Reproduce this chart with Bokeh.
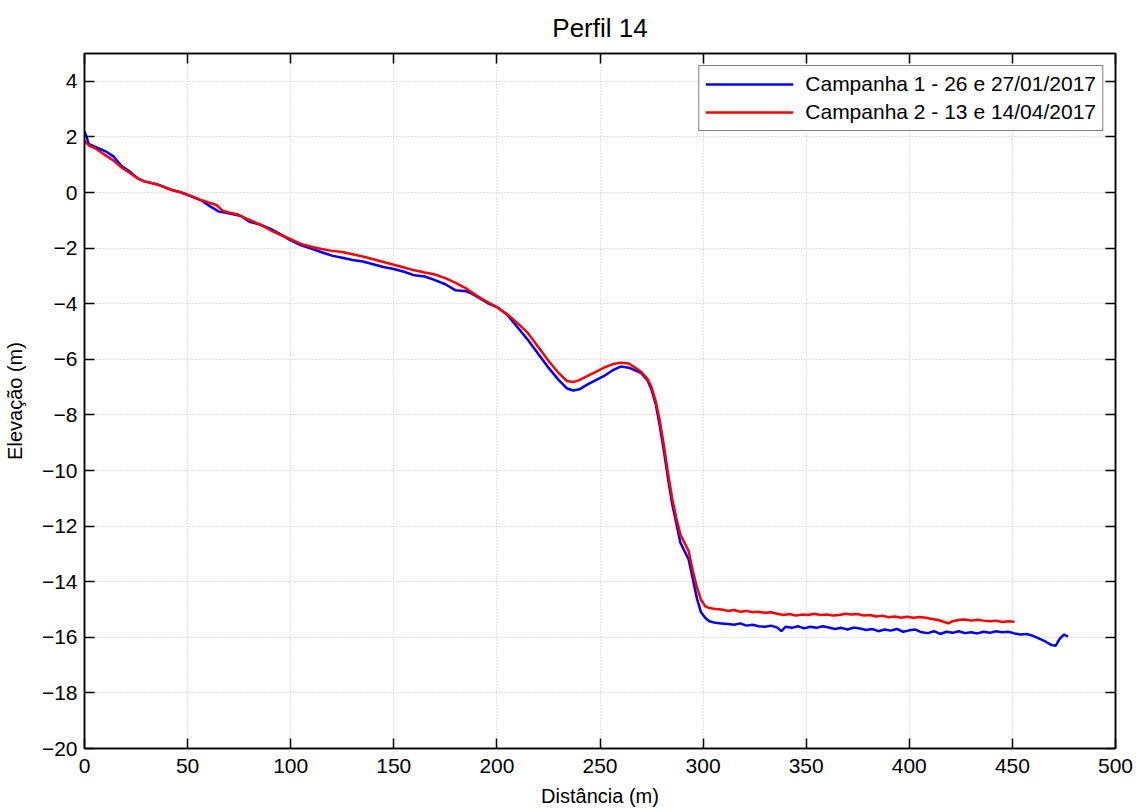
from bokeh.plotting import figure
from bokeh.models import Range1d, FixedTicker, LinearAxis, Legend, LegendItem, CustomJSTickFormatter
from bokeh.embed import file_html
from bokeh.resources import INLINE

# ---- data ----
c1_x = [0, 1, 2, 5, 8, 11, 14, 18, 22, 26, 29, 35, 42, 47, 52, 57, 61, 65, 68, 72, 76, 80, 85, 90, 95,
        100, 105, 110, 115, 120, 125, 130, 135, 140, 145, 150, 155, 160, 165, 170, 175, 180, 185, 188,
        192, 196, 200, 205, 210, 215, 220, 225, 230, 234, 237, 240, 244, 248, 252, 256, 260, 264, 267,
        270, 273, 275, 277, 279, 281, 283, 285, 287, 289, 291, 293, 295, 297, 299, 301, 303, 306, 309,
        312, 315, 318, 321, 324, 327, 330, 333, 336, 338, 340, 343, 346, 349, 352, 355, 358, 361, 364,
        367, 370, 373, 376, 379, 382, 385, 388, 391, 394, 397, 400, 403, 406, 409, 412, 415, 418, 421,
        424, 427, 430, 433, 436, 439, 442, 445, 448, 451, 454, 457, 460, 463, 466, 469, 471, 473, 475, 477]
c1_y = [2.2, 2.0, 1.75, 1.65, 1.55, 1.45, 1.3, 0.95, 0.75, 0.5, 0.4, 0.3, 0.1, 0.0, -0.15, -0.3, -0.5,
        -0.68, -0.72, -0.78, -0.85, -1.05, -1.15, -1.3, -1.5, -1.72, -1.9, -2.02, -2.15, -2.27, -2.35,
        -2.43, -2.48, -2.58, -2.68, -2.75, -2.85, -2.98, -3.02, -3.15, -3.3, -3.52, -3.55, -3.65, -3.82,
        -4.0, -4.12, -4.4, -4.85, -5.3, -5.8, -6.3, -6.75, -7.05, -7.12, -7.08, -6.9, -6.75, -6.6, -6.4,
        -6.26, -6.3, -6.4, -6.5, -6.75, -7.1, -7.6, -8.4, -9.3, -10.3, -11.2, -11.9, -12.6, -12.9, -13.2,
        -13.9, -14.6, -15.1, -15.3, -15.42, -15.48, -15.5, -15.52, -15.55, -15.5, -15.58, -15.55, -15.6,
        -15.62, -15.58, -15.65, -15.78, -15.62, -15.66, -15.6, -15.68, -15.62, -15.66, -15.6, -15.65,
        -15.7, -15.66, -15.72, -15.65, -15.68, -15.74, -15.7, -15.78, -15.72, -15.76, -15.7, -15.8,
        -15.75, -15.72, -15.82, -15.85, -15.78, -15.88, -15.8, -15.84, -15.78, -15.85, -15.82, -15.86,
        -15.8, -15.84, -15.78, -15.82, -15.8, -15.86, -15.9, -15.88, -15.95, -16.05, -16.15, -16.28,
        -16.3, -16.05, -15.9, -15.98]

c2_x = [0, 2, 5, 8, 11, 14, 18, 22, 26, 29, 35, 42, 47, 52, 57, 61, 64, 67, 70, 74, 78, 82, 86, 90, 95,
        100, 105, 110, 115, 120, 125, 130, 135, 140, 145, 150, 155, 160, 165, 170, 175, 180, 185, 190,
        195, 200, 205, 210, 215, 220, 225, 230, 234, 237, 240, 244, 248, 252, 256, 260, 264, 267, 270,
        273, 275, 277, 279, 281, 283, 285, 287, 289, 291, 293, 295, 297, 299, 301, 303, 306, 309, 312,
        315, 318, 321, 324, 327, 330, 333, 336, 339, 342, 345, 348, 351, 354, 357, 360, 363, 366, 369,
        372, 375, 378, 381, 384, 387, 390, 393, 396, 399, 402, 405, 408, 411, 414, 417, 419, 421, 424,
        427, 430, 433, 436, 439, 442, 445, 448, 451]
c2_y = [1.85, 1.7, 1.6, 1.45, 1.3, 1.15, 0.9, 0.7, 0.5, 0.4, 0.3, 0.1, 0.0, -0.13, -0.28, -0.38, -0.45,
        -0.65, -0.72, -0.78, -0.92, -1.05, -1.18, -1.35, -1.52, -1.68, -1.85, -1.95, -2.03, -2.1, -2.14,
        -2.22, -2.3, -2.4, -2.5, -2.6, -2.7, -2.8, -2.88, -2.95, -3.08, -3.25, -3.45, -3.7, -3.92, -4.12,
        -4.38, -4.7, -5.05, -5.55, -6.05, -6.5, -6.78, -6.82, -6.75, -6.6, -6.45, -6.3, -6.18, -6.12,
        -6.15, -6.3, -6.45, -6.7, -7.0, -7.5, -8.2, -9.1, -10.1, -11.0, -11.7, -12.3, -12.6, -12.9,
        -13.6, -14.2, -14.65, -14.88, -14.95, -14.98, -15.0, -15.05, -15.02, -15.08, -15.05, -15.1,
        -15.08, -15.12, -15.1, -15.15, -15.2, -15.16, -15.22, -15.18, -15.2, -15.15, -15.2, -15.18,
        -15.22, -15.2, -15.15, -15.18, -15.16, -15.22, -15.2, -15.25, -15.22, -15.28, -15.25, -15.3,
        -15.26, -15.3, -15.27, -15.3, -15.34, -15.38, -15.45, -15.5, -15.42, -15.38, -15.36, -15.4,
        -15.37, -15.4, -15.42, -15.4, -15.45, -15.42, -15.44]

series_labels = ["Campanha 1 - 26 e 27/01/2017", "Campanha 2 - 13 e 14/04/2017"]
x_ticks = [0, 50, 100, 150, 200, 250, 300, 350, 400, 450, 500]
y_ticks = [-20, -18, -16, -14, -12, -10, -8, -6, -4, -2, 0, 2, 4]

FONT = "Liberation Sans"

p = figure(width=1135, height=809, output_backend="svg", toolbar_location=None,
           x_range=Range1d(0, 500), y_range=Range1d(-20, 5),
           min_border_left=83, min_border_right=20, min_border_top=52, min_border_bottom=60)
p.background_fill_color = "white"
p.border_fill_color = "white"
p.outline_line_color = "black"
p.outline_line_width = 1.5

p.title.text = "Perfil 14"
p.title.align = "center"
p.title.text_font = FONT
p.title.text_font_size = "26px"
p.title.text_font_style = "normal"
p.title.text_color = "black"
p.title.standoff = 21

def style_axis(ax, ticks, labels=True):
    ax.ticker = FixedTicker(ticks=ticks)
    ax.major_tick_in = 10
    ax.major_tick_out = 0
    ax.minor_tick_in = 0
    ax.minor_tick_out = 0
    ax.axis_line_color = "black"
    ax.axis_line_width = 1.5
    ax.major_tick_line_color = "black"
    ax.major_tick_line_width = 1.5
    ax.major_label_text_font = FONT
    ax.major_label_text_font_size = "21px"
    ax.major_label_text_color = "black"
    if not labels:
        ax.formatter = CustomJSTickFormatter(code="return ''")
        ax.major_label_standoff = 0
        ax.major_label_text_font_size = "0px"
        ax.axis_label = None
        ax.axis_label_standoff = 0
        ax.axis_label_text_font_size = "0px"

style_axis(p.xaxis[0], x_ticks)
style_axis(p.yaxis[0], y_ticks)
p.xaxis.major_label_standoff = 10
p.yaxis.major_label_standoff = 7
p.xaxis.axis_label = "Distância (m)"
p.yaxis.axis_label = "Elevação (m)"
for ax in (p.xaxis[0], p.yaxis[0]):
    ax.axis_label_text_font = FONT
    ax.axis_label_text_font_size = "20px"
    ax.axis_label_text_font_style = "normal"
    ax.axis_label_text_color = "black"
p.xaxis.axis_label_standoff = 9
p.yaxis.axis_label_standoff = 13

top_ax = LinearAxis()
style_axis(top_ax, x_ticks, labels=False)
p.add_layout(top_ax, "above")
right_ax = LinearAxis()
style_axis(right_ax, y_ticks, labels=False)
p.add_layout(right_ax, "right")

p.xgrid.ticker = FixedTicker(ticks=x_ticks)
p.ygrid.ticker = FixedTicker(ticks=y_ticks)
for g in (p.xgrid[0], p.ygrid[0]):
    g.grid_line_color = "#c4c4c4"
    g.grid_line_dash = "1 2"
    g.grid_line_width = 1

r1 = p.line(c1_x, c1_y, line_color="#0000ff", line_width=2.5)
r2 = p.line(c2_x, c2_y, line_color="#ff0000", line_width=2.5)

legend = Legend(items=[LegendItem(label=series_labels[0], renderers=[r1]),
                       LegendItem(label=series_labels[1], renderers=[r2])],
                location="top_right")
legend.label_text_font = FONT
legend.label_text_font_size = "21px"
legend.label_text_color = "black"
legend.border_line_color = "black"
legend.border_line_width = 1
legend.background_fill_color = "white"
legend.background_fill_alpha = 1
legend.glyph_width = 88
legend.glyph_height = 20
legend.label_standoff = 12
legend.label_height = 22
legend.spacing = 4
legend.padding = 6
legend.margin = 12
p.add_layout(legend, "center")

open("out.html", "w").write(file_html(p, INLINE))
